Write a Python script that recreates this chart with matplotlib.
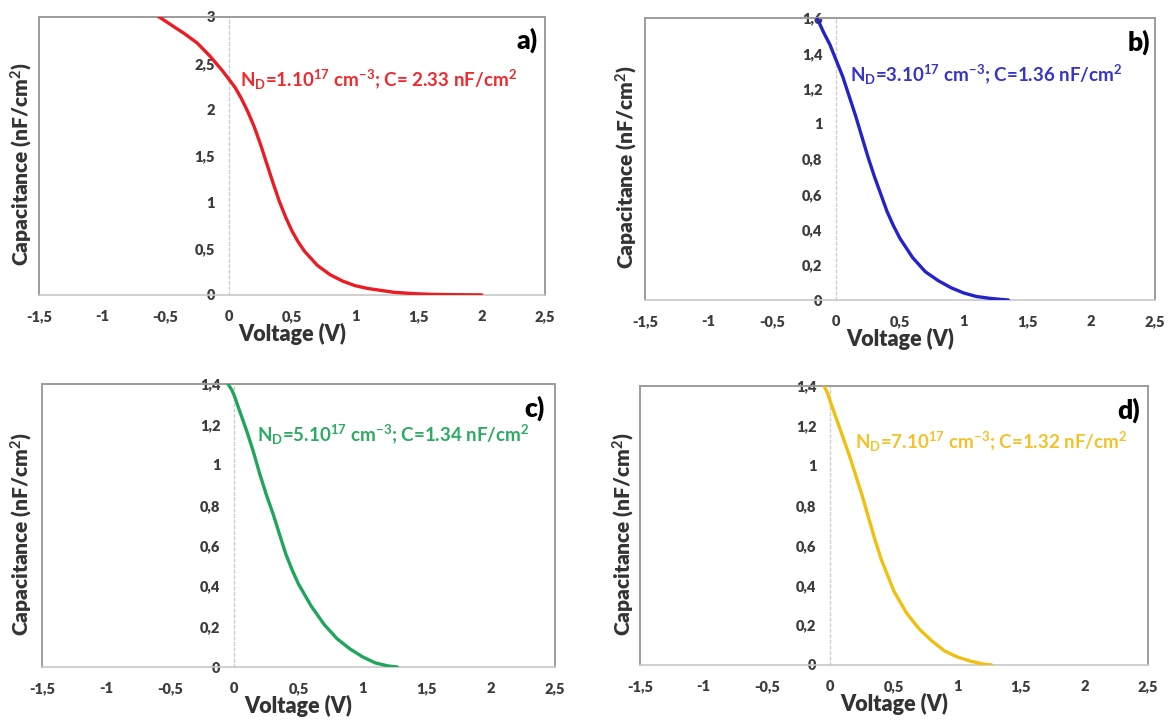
import matplotlib
matplotlib.use("Agg")
import matplotlib.pyplot as plt
from matplotlib.ticker import FuncFormatter, FixedLocator

plt.rcParams['font.family'] = ['Lato', 'DejaVu Sans']
plt.rcParams['mathtext.fontset'] = 'custom'
plt.rcParams['mathtext.rm'] = 'Lato:bold'
plt.rcParams['mathtext.it'] = 'Lato:bold'
plt.rcParams['mathtext.bf'] = 'Lato:bold'

# ---- data ----
x_ticks = [-1.5, -1, -0.5, 0, 0.5, 1, 1.5, 2, 2.5]

va = [-0.6, -0.55, -0.45, -0.35, -0.25, -0.15, -0.05, 0, 0.05, 0.1, 0.15, 0.2,
      0.25, 0.3, 0.35, 0.4, 0.45, 0.5, 0.55, 0.6, 0.7, 0.8, 0.9, 1.0, 1.1,
      1.2, 1.3, 1.4, 1.5, 1.6, 1.8, 2.0]
ca = [3.05, 3.0, 2.91, 2.82, 2.72, 2.58, 2.42, 2.33, 2.24, 2.12, 1.98, 1.82,
      1.63, 1.42, 1.21, 1.01, 0.84, 0.69, 0.57, 0.47, 0.32, 0.22, 0.15, 0.10,
      0.07, 0.05, 0.03, 0.02, 0.012, 0.007, 0.003, 0.001]

vb = [-0.15, -0.1, -0.05, 0, 0.05, 0.1, 0.15, 0.2, 0.25, 0.3, 0.35, 0.4, 0.45,
      0.5, 0.6, 0.7, 0.8, 0.9, 1.0, 1.1, 1.2, 1.3, 1.35]
cb = [1.60, 1.52, 1.45, 1.36, 1.27, 1.16, 1.05, 0.93, 0.81, 0.70, 0.60, 0.50,
      0.42, 0.35, 0.24, 0.16, 0.11, 0.07, 0.04, 0.02, 0.01, 0.003, 0.0]

vc = [-0.05, -0.02, 0, 0.05, 0.1, 0.15, 0.2, 0.25, 0.3, 0.35, 0.4, 0.45, 0.5,
      0.6, 0.7, 0.8, 0.9, 1.0, 1.1, 1.2, 1.27]
cc = [1.40, 1.37, 1.34, 1.25, 1.16, 1.06, 0.95, 0.85, 0.76, 0.66, 0.56, 0.48,
      0.41, 0.30, 0.21, 0.14, 0.09, 0.05, 0.02, 0.005, 0.0]

vd = [-0.05, -0.02, 0, 0.05, 0.1, 0.15, 0.2, 0.25, 0.3, 0.35, 0.4, 0.45, 0.5,
      0.6, 0.7, 0.8, 0.9, 1.0, 1.1, 1.2, 1.27]
cd = [1.40, 1.36, 1.32, 1.23, 1.14, 1.05, 0.95, 0.85, 0.74, 0.63, 0.53, 0.45,
      0.37, 0.26, 0.18, 0.12, 0.07, 0.04, 0.02, 0.005, 0.0]

y_ticks_a = [0, 0.5, 1, 1.5, 2, 2.5, 3]
y_ticks_b = [0, 0.2, 0.4, 0.6, 0.8, 1, 1.2, 1.4, 1.6]
y_ticks_cd = [0, 0.2, 0.4, 0.6, 0.8, 1, 1.2, 1.4]

notes = [r'N$_{D}$=1.10$^{17}$ cm$^{-3}$; C= 2.33 nF/cm$^{2}$',
         r'N$_{D}$=3.10$^{17}$ cm$^{-3}$; C=1.36 nF/cm$^{2}$',
         r'N$_{D}$=5.10$^{17}$ cm$^{-3}$; C=1.34 nF/cm$^{2}$',
         r'N$_{D}$=7.10$^{17}$ cm$^{-3}$; C=1.32 nF/cm$^{2}$']
letters = ['a)', 'b)', 'c)', 'd)']
colors = ['#ea1c24', '#2323c8', '#1fa55c', '#f0c010']
text_colors = ['#ee2a2f', '#3535c8', '#2eab62', '#f2c22a']

panels = [
    dict(rect=[0.0334, 0.5903, 0.4332, 0.3861], v=va, c=ca, yt=y_ticks_a,
         note=(0.397, 0.773), let=(0.985, 0.915), ylab=-0.008),
    dict(rect=[0.5522, 0.5833, 0.4366, 0.3917], v=vb, c=cb, yt=y_ticks_b,
         note=(0.402, 0.798), let=(0.99, 0.915), ylab=-0.010),
    dict(rect=[0.0360, 0.0736, 0.4392, 0.3931], v=vc, c=cc, yt=y_ticks_cd,
         note=(0.419, 0.820), let=(0.98, 0.915), ylab=-0.014),
    dict(rect=[0.5479, 0.0764, 0.4349, 0.3875], v=vd, c=cd, yt=y_ticks_cd,
         note=(0.423, 0.800), let=(0.984, 0.914), ylab=-0.006),
]


def fmt(val, pos=None):
    s = ('%g' % round(val, 3)).replace('.', ',')
    return s


fig = plt.figure(figsize=(11.68, 7.2), dpi=100)
frame_col = '#9c9c9c'
tick_col = '#3c3c3c'

for i, p in enumerate(panels):
    ax = fig.add_axes(p['rect'])
    ax.plot(p['v'], p['c'], color=colors[i], lw=2.4, solid_capstyle='round',
            solid_joinstyle='round', zorder=3)
    ax.set_xlim(-1.5, 2.5)
    ax.set_ylim(0, p['yt'][-1])
    ax.xaxis.set_major_locator(FixedLocator(x_ticks))
    ax.yaxis.set_major_locator(FixedLocator(p['yt']))
    ax.xaxis.set_major_formatter(FuncFormatter(fmt))
    ax.yaxis.set_major_formatter(FuncFormatter(fmt))

    ax.spines['left'].set_position(('data', 0))
    ax.spines['left'].set_color('#cfcfcf')
    ax.spines['left'].set_linestyle((0, (2, 2)))
    ax.spines['left'].set_linewidth(1.0)
    ax.spines['bottom'].set_color('#c8c8c8')
    ax.spines['bottom'].set_linewidth(1.2)
    for s in ('top', 'right'):
        ax.spines[s].set_color(frame_col)
        ax.spines[s].set_linewidth(1.4)
    ax.plot([0, 0], [0, 1], transform=ax.transAxes, color=frame_col, lw=1.4,
            clip_on=False)

    ax.tick_params(axis='both', length=0, labelsize=10.5, colors=tick_col)
    ax.tick_params(axis='x', pad=11)
    ax.tick_params(axis='y', pad=10)
    for lab in ax.get_xticklabels() + ax.get_yticklabels():
        lab.set_fontweight('heavy')

    ax.set_xlabel('Voltage (V)', fontsize=15.5, fontweight='heavy',
                  color='#333333', labelpad=0)
    ax.set_ylabel('Capacitance (nF/cm$^{2}$)', fontsize=15,
                  fontweight='heavy', color='#333333')
    ax.yaxis.set_label_coords(p['ylab'], 0.47)

    ax.text(p['note'][0], p['note'][1], notes[i], transform=ax.transAxes,
            color=text_colors[i], fontsize=13.5, fontweight='bold', ha='left',
            va='center')
    ax.text(p['let'][0], p['let'][1], letters[i], transform=ax.transAxes,
            color='black', fontsize=19, fontweight='heavy', ha='right',
            va='center')

fig.savefig('out.png', dpi=100)
